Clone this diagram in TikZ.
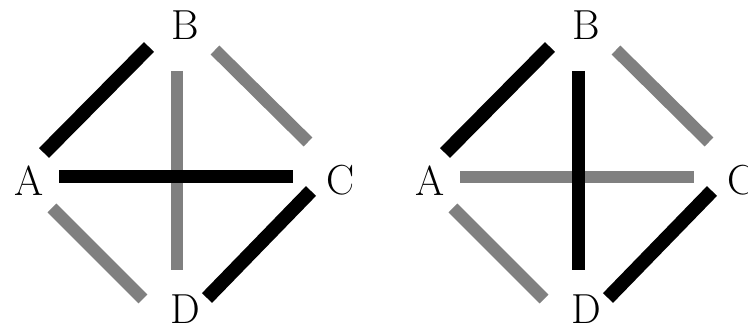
\documentclass[tikz,border=0pt]{standalone}
\usepackage{xcolor}
\usepackage{tikz}
\definecolor{edgeDark}{HTML}{000000}
\definecolor{edgeGrey}{HTML}{808080}

\begin{document}
\begin{tikzpicture}[
  x=1pt, y=-1pt,
  vert/.style={font=\fontsize{42}{42}\selectfont, inner sep=0pt},
  heavy/.style={draw=edgeDark, line width=14pt, line cap=butt},
  light/.style={draw=edgeGrey, line width=12.5pt, line cap=butt},
]
\useasboundingbox (0,0) rectangle (748,328);

% ---- Grafo izquierdo ----
\node[vert] (A1) at (29,181) {A};
\node[vert] (B1) at (185,25)  {B};
\node[vert] (C1) at (341,180) {C};
\node[vert] (D1) at (185,309) {D};

\draw[light] ([shift={(-8,46)}]B1.center)  -- ([shift={(-8,-39)}]D1.center);
\draw[heavy, line width=13pt] ([shift={(30,-4)}]A1.center)  -- ([shift={(-48,-3)}]C1.center);
\draw[heavy] ([shift={(15,-28)}]A1.center) -- ([shift={(-36,22)}]B1.center);
\draw[light] ([shift={(30,25)}]B1.center)  -- ([shift={(-33,-38)}]C1.center);
\draw[light] ([shift={(23,27)}]A1.center)  -- ([shift={(-42,-10)}]D1.center);
\draw[heavy] ([shift={(-30,11)}]C1.center) -- ([shift={(22,-11)}]D1.center);

% ---- Grafo derecho ----
\node[vert] (A2) at (430,181) {A};
\node[vert] (B2) at (586,25)  {B};
\node[vert] (C2) at (742,180) {C};
\node[vert] (D2) at (586,309) {D};

\draw[light] ([shift={(30,-4)}]A2.center)  -- ([shift={(-48,-3)}]C2.center);
\draw[heavy, line width=13pt] ([shift={(-8,46)}]B2.center)  -- ([shift={(-8,-39)}]D2.center);
\draw[heavy] ([shift={(15,-28)}]A2.center) -- ([shift={(-36,22)}]B2.center);
\draw[light] ([shift={(30,25)}]B2.center)  -- ([shift={(-33,-38)}]C2.center);
\draw[light] ([shift={(23,27)}]A2.center)  -- ([shift={(-42,-10)}]D2.center);
\draw[heavy] ([shift={(-30,11)}]C2.center) -- ([shift={(22,-11)}]D2.center);

\end{tikzpicture}
\end{document}
